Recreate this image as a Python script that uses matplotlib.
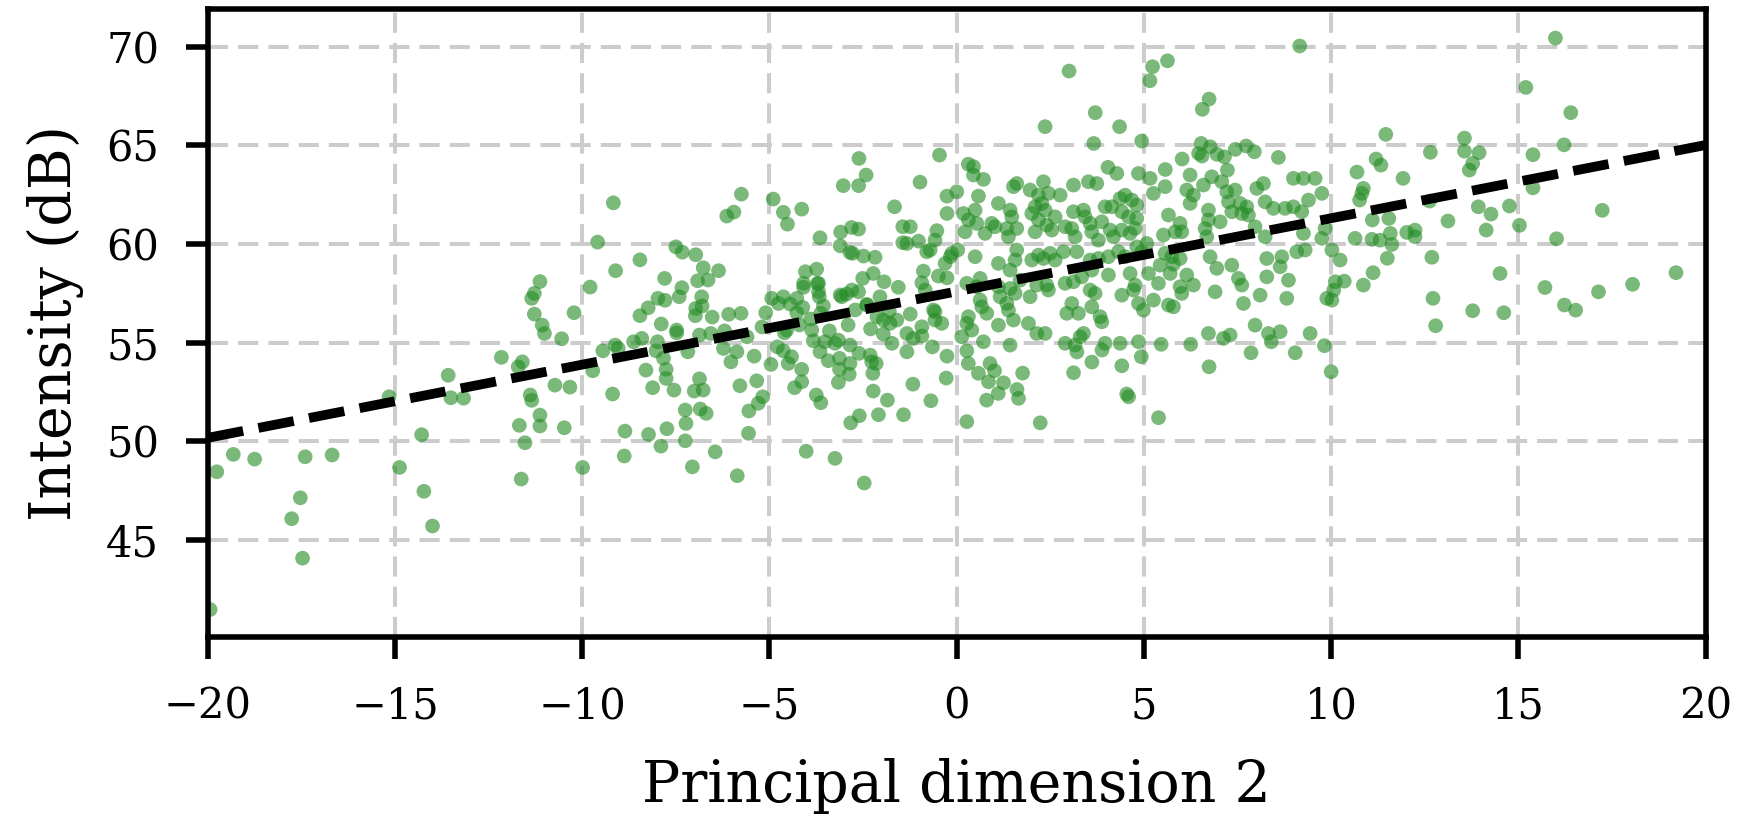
import numpy as np
import matplotlib
matplotlib.use("Agg")
import matplotlib.pyplot as plt

plt.rcParams['font.family'] = ['DejaVu Serif']

# Principal dimension 2 / intensity pairs, grouped by area of the plane
dim2_far_left = [-19.76, -19.32, -18.75, -17.40, -16.68, -17.53, -17.76, -17.47, -19.94, -15.16,
                 -14.88, -14.29, -14.23, -14.00, -13.58, -13.51, -13.17, -12.16, -11.71, -11.60,
                 -11.39, -11.35, -11.13, -11.13, -11.68, -11.53, -11.63, -10.48, -10.73, -10.33,
                 -9.99, -11.28, -11.07, -11.01, -10.55, -10.22, -11.35, -11.28, -11.13]
db_far_left = [48.46, 49.34, 49.10, 49.22, 49.31, 47.14, 46.08, 44.08, 41.48, 52.26,
               48.68, 50.34, 47.47, 45.71, 53.35, 52.21, 52.19, 54.26, 53.78, 54.03,
               52.35, 52.08, 51.33, 50.78, 50.81, 49.93, 48.09, 50.69, 52.85, 52.75,
               48.68, 56.45, 55.89, 55.47, 55.20, 56.52, 57.25, 57.50, 58.10]

dim2_left_upper = [-9.17, -9.59, -9.11, -9.79, -8.46, -7.80, -7.50, -7.33, -6.97, -6.77,
                   -6.36, -6.92, -6.64, -7.34, -7.41, -7.98, -7.79, -6.81, -6.80, -6.97,
                   -6.98, -6.53, -6.09, -5.76, -8.24, -8.46, -7.89, -7.48, -6.14, -5.95,
                   -5.75, -4.90, -4.63, -4.52, -4.14, -3.65, -3.10, -2.81, -2.62, -3.11,
                   -2.85, -2.78, -2.49, -2.18, -3.03, -2.62, -2.42, -2.61, -1.66, -1.44,
                   -1.24, -1.44, -1.02, -0.98, -0.46, -0.26, -0.53, -0.58, -0.71, -0.26,
                   -0.17, -0.31, -2.23, -2.51, -1.94, -1.56, -0.89, -0.93, -0.49, -0.26,
                   -0.84, -3.74, -4.04, -3.72, -4.09, -3.69, -3.67, -4.63, -4.27, -4.94,
                   -4.76, -4.45, -4.11, -3.56, -3.63, -5.10, -4.27, -3.07, -2.94, -2.62,
                   -2.40, -2.05, -2.13, -1.60, -1.24, -0.58, -0.58, -0.40,
                   -5.20, -4.60, -4.20, -3.90, -3.40, -2.90, -2.30, -1.80, -5.60, -6.20,
                   -3.11, -2.80, -2.40, -2.71, -1.96, -1.78, -1.33, -0.93, -0.62, -3.87,
                   -4.54, -3.16, -2.85, -0.13, -0.80, -1.33, -4.09, -3.69]
db_left_upper = [62.09, 60.10, 58.65, 57.82, 59.20, 58.26, 59.86, 59.59, 59.46, 58.80,
                 58.65, 58.14, 58.18, 57.79, 57.33, 57.25, 57.15, 57.33, 56.86, 56.74,
                 56.37, 56.30, 56.44, 56.49, 56.77, 56.37, 55.95, 55.64, 61.42, 61.62,
                 62.53, 62.28, 61.61, 61.01, 61.77, 60.32, 60.61, 60.84, 60.76, 59.91,
                 59.58, 59.53, 59.39, 59.33, 62.96, 62.96, 63.50, 64.34, 61.89, 60.88,
                 60.88, 60.07, 60.15, 63.14, 64.51, 62.43, 60.68, 60.20, 59.70, 61.55,
                 59.36, 59.02, 58.51, 58.26, 58.09, 57.81, 58.63, 58.04, 58.38, 58.29,
                 57.67, 58.73, 58.60, 58.00, 57.81, 57.58, 57.33, 57.33, 57.25, 57.25,
                 56.99, 56.96, 56.79, 56.87, 56.49, 56.52, 56.52, 57.33, 57.47, 57.58,
                 56.94, 57.33, 56.32, 56.15, 56.45, 56.57, 56.15, 55.98,
                 55.80, 55.50, 55.90, 56.20, 55.60, 55.90, 55.70, 56.60, 55.30, 55.60,
                 57.42, 57.67, 56.91, 56.66, 56.15, 55.98, 55.47, 55.81, 56.66, 55.64,
                 55.64, 55.13, 54.88, 59.53, 59.61, 60.03, 58.01, 58.01]

dim2_left_lower = [-9.72, -9.19, -9.45, -9.12, -9.04, -8.63, -8.41, -8.30, -8.12, -7.99,
                   -8.03, -7.83, -7.76, -7.76, -7.55, -7.48, -7.18, -6.87, -6.57, -8.86,
                   -8.88, -8.23, -7.90, -7.74, -7.25, -7.23, -7.25, -7.06, -6.45, -6.87,
                   -7.01, -6.77, -6.85, -6.69, -6.23, -6.03, -5.87, -5.41, -5.79, -5.34,
                   -5.30, -5.18, -5.55, -5.56, -5.86, -4.96, -4.79, -4.63, -4.50, -4.41,
                   -4.14, -4.14, -4.33, -3.83, -3.65, -3.43, -3.25, -3.52, -3.13, -3.13,
                   -2.85, -2.87, -3.16, -2.61, -2.31, -2.27, -2.15, -2.24, -2.23, -1.85,
                   -2.09, -2.60, -2.83, -3.75, -3.63, -1.42, -1.17, -0.69, -0.28, -0.26,
                   -0.65, -1.33, -1.73, -1.96, -1.16, -0.93, -4.02, -3.25, -2.47]
db_left_lower = [53.58, 52.40, 54.59, 54.88, 54.71, 55.05, 55.22, 53.61, 52.72, 55.05,
                 54.59, 54.21, 53.65, 53.19, 52.60, 55.50, 54.54, 55.39, 55.47, 50.52,
                 49.26, 50.35, 49.76, 50.64, 51.59, 50.91, 50.03, 48.71, 49.47, 53.17,
                 52.55, 52.60, 51.64, 51.42, 54.71, 54.03, 54.54, 54.32, 52.82, 53.07,
                 51.93, 52.26, 51.54, 50.41, 48.26, 53.90, 54.79, 54.59, 53.95, 54.29,
                 53.65, 53.02, 52.72, 55.10, 54.54, 54.09, 54.97, 55.05, 54.21, 53.65,
                 53.95, 53.40, 52.99, 54.46, 54.37, 54.03, 53.95, 53.45, 52.55, 52.09,
                 51.35, 51.30, 50.94, 52.35, 51.96, 51.35, 52.90, 52.06, 53.21, 54.32,
                 54.79, 54.54, 54.97, 55.44, 55.22, 55.34, 49.50, 49.14, 47.89]

dim2_right_top = [3.00, 3.70, 2.36, 4.35, 3.66, 4.94, 5.23, 5.16, 5.63, 6.74,
                  6.56, 9.16, 6.53, 6.77, 6.46, 6.55, 6.95, 7.15, 7.44, 7.73,
                  7.95, 8.59, 6.02, 5.57, 7.23, 4.04, 0.31, 0.45]
db_right_top = [68.77, 66.66, 65.95, 65.95, 65.10, 65.22, 68.99, 68.28, 69.29, 67.35,
                66.83, 70.04, 65.10, 64.93, 64.60, 64.46, 64.55, 64.42, 64.80, 64.97,
                64.68, 64.39, 64.31, 63.78, 63.75, 63.89, 64.05, 63.92]

# dense band, 0 <= x < 5
dim2_core_a = [0.447, 0.714, 1.515, 1.604, 1.960, 2.316, 2.183, 2.450, 2.272, 2.094,
               2.361, 2.762, 3.118, 3.518, 3.741, 4.275, 4.854, 4.497, 4.364, 4.676,
               4.809, 4.141, 3.963, 0.002, 0.580, 0.180, 0.491, 0.313, 0.536, 0.224,
               0.758, 0.936, 1.114, 1.426, 1.025, 1.337, 1.381, 1.604, 1.471, 2.005,
               2.183, 2.094, 2.405, 2.539, 2.628, 2.895, 3.118, 3.385, 3.429, 3.162,
               3.073, 3.607, 3.563, 3.874, 4.097, 4.186, 4.409, 4.631, 4.765, 4.809,
               4.587, 4.409, 3.785, 0.028, 0.491, 1.114, 1.426, 1.604, 1.560, 2.005,
               2.183, 2.316, 2.628, 2.494, 2.851, 3.207, 3.563, 3.785, 4.052, 4.319,
               4.497, 4.809, 4.943, 0.269, 0.536, 0.625, 1.114, 1.426, 1.693, 1.560,
               1.159, 1.337, 1.960, 2.138, 2.405, 2.450, 2.895, 3.118, 3.340, 3.563,
               3.696, 3.607, 4.052, 4.631, 4.765, 4.409, 4.720, 0.625, 0.669, 0.803,
               0.313, 0.269, 0.402, 1.114, 1.381, 1.515, 1.916, 2.138, 2.361, 2.940,
               3.251, 3.073, 3.607, 3.830, 3.874, 3.385, 3.296, 3.963, 4.364, 4.854,
               0.135, 0.714, 1.426, 2.895, 3.162, 4.854, 4.987]
db_core_a = [63.50, 63.28, 62.91, 63.07, 62.74, 63.16, 62.48, 62.57, 62.06, 61.89,
             61.72, 62.48, 62.99, 63.16, 63.07, 63.58, 63.58, 62.48, 62.31, 62.23,
             61.98, 61.89, 61.89, 62.65, 62.43, 61.55, 61.72, 61.22, 61.05, 60.62,
             60.54, 61.05, 62.06, 61.72, 60.88, 60.79, 60.37, 60.79, 61.38, 61.55,
             61.22, 60.62, 60.96, 60.71, 61.38, 60.88, 61.64, 61.72, 61.38, 60.37,
             60.79, 60.62, 61.05, 61.13, 60.71, 60.37, 60.71, 60.54, 60.79, 61.30,
             61.38, 61.64, 60.20, 59.70, 59.36, 59.02, 58.68, 59.70, 59.19, 59.19,
             59.44, 59.27, 59.19, 59.53, 59.61, 59.61, 59.19, 59.27, 59.36, 59.61,
             59.36, 59.86, 59.61, 58.01, 57.84, 58.26, 57.84, 57.75, 58.17, 57.50,
             57.33, 56.99, 57.33, 57.92, 57.92, 57.67, 58.01, 58.09, 58.34, 57.67,
             57.50, 58.68, 58.43, 58.51, 57.92, 57.41, 57.67, 57.16, 56.82, 56.49,
             56.32, 55.98, 55.64, 55.89, 56.65, 56.15, 55.98, 55.47, 55.47, 56.49,
             56.49, 56.99, 56.82, 56.32, 56.06, 55.47, 55.30, 54.97, 54.97, 55.05,
             55.30, 55.05, 54.88, 54.97, 54.88, 56.99, 56.65]

# dense band, 5 <= x <= 10
dim2_core_b = [5.165, 5.566, 5.254, 6.233, 6.812, 7.079, 6.590, 6.144, 6.322, 7.213,
               7.435, 8.014, 8.192, 8.993, 9.260, 9.572, 9.750, 9.394, 8.237, 8.459,
               8.771, 8.993, 9.216, 6.233, 6.723, 7.257, 7.569, 7.747, 7.346, 7.613,
               7.791, 5.655, 5.966, 6.011, 5.833, 5.521, 5.076, 5.566, 5.744, 5.966,
               5.788, 5.432, 5.121, 5.699, 6.144, 5.388, 5.966, 6.322, 6.011, 5.655,
               5.788, 5.254, 6.723, 6.634, 7.035, 6.678, 6.767, 6.945, 7.346, 7.524,
               7.613, 6.901, 7.658, 8.103, 8.281, 7.969, 8.237, 8.281, 8.682, 8.637,
               8.860, 8.815, 9.082, 9.305, 9.260, 9.750, 9.839, 9.884, 7.969, 8.326,
               8.637, 9.438, 7.302, 7.124, 6.723]
db_core_b = [63.33, 62.91, 62.57, 63.50, 63.41, 63.16, 62.99, 62.74, 62.48, 62.65,
             62.74, 62.82, 63.07, 63.33, 63.33, 63.33, 62.57, 62.23, 62.14, 61.81,
             61.81, 61.89, 61.64, 62.06, 61.72, 62.14, 62.06, 61.89, 61.64, 61.55,
             61.47, 61.47, 61.05, 60.62, 60.62, 60.46, 60.03, 59.53, 59.36, 59.27,
             58.98, 58.93, 58.51, 58.51, 58.43, 58.01, 57.84, 57.92, 57.50, 56.91,
             56.82, 57.16, 61.22, 60.79, 61.13, 60.37, 59.36, 58.77, 58.93, 58.26,
             57.92, 57.58, 56.99, 57.41, 58.34, 60.88, 60.37, 59.27, 59.36, 58.85,
             58.17, 57.25, 59.61, 59.70, 60.54, 60.29, 60.79, 57.25, 55.89, 55.47,
             55.56, 55.47, 55.39, 55.22, 55.47]

dim2_right_lower = [0.27, 2.23, 5.39, 0.80, 1.11, 1.65, 1.61, 1.25, 0.85, 0.58,
                    1.01, 0.89, 0.31, 0.27, 1.76, 3.12, 3.21, 3.61, 3.88, 4.41,
                    4.54, 4.59, 4.93, 5.46, 6.25, 6.74, 7.86, 8.40, 9.04, 9.82,
                    10.00]
db_right_lower = [51.00, 50.94, 51.20, 52.09, 52.43, 52.18, 52.63, 52.97, 53.02, 53.45,
                  53.58, 53.95, 53.95, 54.59, 53.46, 53.48, 54.53, 54.02, 54.63, 53.83,
                  52.40, 52.26, 54.29, 54.92, 54.92, 53.78, 54.49, 55.05, 54.49, 54.85,
                  53.53]

dim2_far_right = [15.99, 15.20, 16.40, 16.22, 15.39, 15.39, 17.24, 15.03, 16.02, 14.51,
                  15.71, 16.23, 16.53, 17.14, 18.05, 19.21, 14.61, 13.78, 12.79, 12.72,
                  12.69, 13.56, 13.56, 13.95, 13.78, 13.69, 12.65, 12.63, 13.93, 14.27,
                  14.76, 14.14, 13.12, 11.46, 11.20, 11.33, 10.69, 11.92, 10.86, 10.82,
                  10.76, 11.10, 11.54, 10.64, 11.09, 11.31, 11.58, 11.62, 12.02, 12.24,
                  12.24, 11.50, 10.24, 10.02, 11.12, 10.86, 10.35, 10.11, 10.07, 10.02]
db_far_right = [70.44, 67.94, 66.66, 65.03, 64.53, 62.85, 61.71, 60.95, 60.27, 58.51,
                57.80, 56.91, 56.65, 57.58, 57.96, 58.55, 56.52, 56.62, 55.86, 57.25,
                59.33, 65.37, 64.71, 64.63, 64.09, 63.75, 64.65, 62.18, 61.89, 61.52,
                61.93, 60.71, 61.17, 65.56, 64.31, 64.00, 63.65, 63.33, 62.82, 62.57,
                62.23, 61.22, 61.30, 60.29, 60.24, 60.20, 60.54, 59.98, 60.59, 60.71,
                60.37, 59.28, 59.19, 59.70, 58.55, 57.92, 58.12, 58.09, 57.67, 57.16]

# linear trend (slope, intercept) drawn across the full x range
trend_slope = 0.371
trend_intercept = 57.6

dim2 = np.concatenate([dim2_far_left, dim2_left_upper, dim2_left_lower, dim2_right_top,
                       dim2_core_a, dim2_core_b, dim2_right_lower, dim2_far_right])
intensity = np.concatenate([db_far_left, db_left_upper, db_left_lower, db_right_top,
                            db_core_a, db_core_b, db_right_lower, db_far_right])

fig = plt.figure(figsize=(8.71, 4.07), dpi=200)
ax = fig.add_axes([0.1193, 0.2178, 0.8598, 0.7708])

ax.scatter(dim2, intensity, s=28, color='forestgreen', alpha=0.6, edgecolors='none', zorder=2)

xs = np.array([-20, 20])
ax.plot(xs, trend_intercept + trend_slope * xs, color='black', ls='--', lw=3.5, zorder=3)

ax.set_xlim(-20, 20)
ax.set_ylim(40.1, 71.9)
ax.set_xticks(np.arange(-20, 21, 5))
ax.set_yticks(np.arange(45, 71, 5))
ax.grid(True, color='#cccccc', ls=(0, (5, 2.5)), lw=1.45, zorder=0)
ax.set_axisbelow(True)

for sp in ax.spines.values():
    sp.set_linewidth(2)
ax.tick_params(direction='out', length=8, width=2, pad=9.5, labelsize=15)

ax.set_xlabel('Principal dimension 2', fontsize=20.5, labelpad=11)
ax.set_ylabel('Intensity (dB)', fontsize=20.5, labelpad=8)

fig.savefig('out.png', dpi=200)
